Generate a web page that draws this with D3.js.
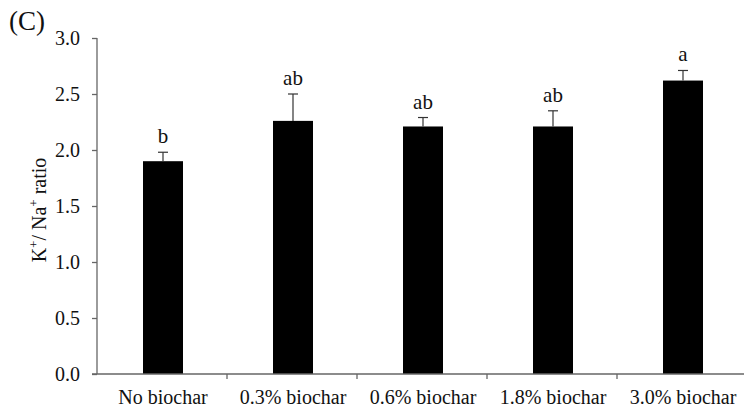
<!DOCTYPE html>
<html lang="en">
<head>
    <meta charset="utf-8" />
    <title>K+/Na+ ratio by biochar</title>
    <script src="https://d3js.org/d3.v7.min.js"></script>
    <style>
        body { margin: 0; background: #fff; }
        svg text { font-family: "Liberation Serif", "Times New Roman", serif; fill: #111; }
    </style>
</head>
<body>
    <script>
        var w = 744;
        var h = 409;

        // data
        var categories = ["No biochar", "0.3% biochar", "0.6% biochar", "1.8% biochar", "3.0% biochar"];
        var ratios = [1.90, 2.26, 2.21, 2.21, 2.62];
        var errors = [0.08, 0.24, 0.08, 0.14, 0.09];
        var letters = ["b", "ab", "ab", "ab", "a"];
        var yTicks = [0, 0.5, 1.0, 1.5, 2.0, 2.5, 3.0];

        // plot box (note: "top" is reserved on window, so use other names)
        var padL = 97, padR = 747, padT = 38, padB = 374;

        var xScale = d3.scaleBand()
            .domain(categories)
            .range([padL, padR])
            .paddingInner(0)
            .paddingOuter(0);

        var yScale = d3.scaleLinear()
            .domain([0, 3])
            .range([padB, padT]);

        var svg = d3.select("body")
            .append("svg")
            .attr("width", w)
            .attr("height", h);

        var barW = 40;
        function cx(i) { return xScale(categories[i]) + xScale.bandwidth() / 2 + 1; }

        // bars
        svg.selectAll("rect.bar")
            .data(ratios)
            .enter()
            .append("rect")
            .attr("class", "bar")
            .attr("x", function (d, i) { return cx(i) - barW / 2; })
            .attr("y", function (d) { return yScale(d); })
            .attr("width", barW)
            .attr("height", function (d) { return padB - yScale(d); })
            .attr("fill", "#000");

        // y axis
        var yAxis = svg.append("g")
            .attr("transform", "translate(" + padL + ",0)")
            .call(d3.axisLeft(yScale).tickValues(yTicks).tickSize(5).tickPadding(12)
                .tickFormat(d3.format(".1f")));
        yAxis.selectAll("text").attr("font-size", "20px").style("font-family", "Liberation Serif, serif");
        yAxis.select(".domain").attr("d", "M0," + padT + "V" + padB);

        // x axis
        var xTickPos = categories.slice(1).map(function (c) { return xScale(c); });
        var xAxis = svg.append("g").attr("transform", "translate(0," + padB + ")");
        xAxis.append("line")
            .attr("x1", padL - 5).attr("x2", w)
            .attr("y1", 0).attr("y2", 0);
        xAxis.selectAll("line.tk")
            .data(xTickPos)
            .enter()
            .append("line")
            .attr("class", "tk")
            .attr("x1", function (d) { return d; })
            .attr("x2", function (d) { return d; })
            .attr("y1", 0).attr("y2", 5);
        xAxis.selectAll("text")
            .data(categories)
            .enter()
            .append("text")
            .attr("x", function (d, i) { return cx(i); })
            .attr("y", 30)
            .attr("text-anchor", "middle")
            .attr("font-size", "20px")
            .text(function (d) { return d; });

        svg.selectAll("path.domain, .tick line, g line").attr("stroke", "#666").attr("stroke-width", 1.3);

        // error bars (upper only)
        var err = svg.selectAll("g.err")
            .data(ratios)
            .enter()
            .append("g")
            .attr("class", "err")
            .attr("stroke", "#333")
            .attr("stroke-width", 1.2);

        err.append("line")
            .attr("x1", function (d, i) { return cx(i); })
            .attr("x2", function (d, i) { return cx(i); })
            .attr("y1", function (d) { return yScale(d); })
            .attr("y2", function (d, i) { return yScale(d + errors[i]); });

        err.append("line")
            .attr("x1", function (d, i) { return cx(i) - 5; })
            .attr("x2", function (d, i) { return cx(i) + 5; })
            .attr("y1", function (d, i) { return yScale(d + errors[i]); })
            .attr("y2", function (d, i) { return yScale(d + errors[i]); });

        // significance letters
        svg.selectAll("text.letter")
            .data(ratios)
            .enter()
            .append("text")
            .attr("class", "letter")
            .attr("x", function (d, i) { return cx(i); })
            .attr("y", function (d, i) { return yScale(d + errors[i]) - 9; })
            .attr("text-anchor", "middle")
            .attr("font-size", "21px")
            .text(function (d, i) { return letters[i]; });

        // y label
        var yl = svg.append("text")
            .attr("transform", "translate(46," + ((padT + padB) / 2 + 4) + ") rotate(-90)")
            .attr("text-anchor", "middle")
            .attr("font-size", "20px");
        yl.append("tspan").text("K");
        yl.append("tspan").attr("dy", -8).attr("font-size", "13px").text("+");
        yl.append("tspan").attr("dy", 8).text("/ Na");
        yl.append("tspan").attr("dy", -8).attr("font-size", "13px").text("+");
        yl.append("tspan").attr("dy", 8).text(" ratio");

        // panel label
        svg.append("text")
            .attr("x", 9)
            .attr("y", 30)
            .attr("font-size", "27px")
            .text("(C)");
    </script>
</body>
</html>
